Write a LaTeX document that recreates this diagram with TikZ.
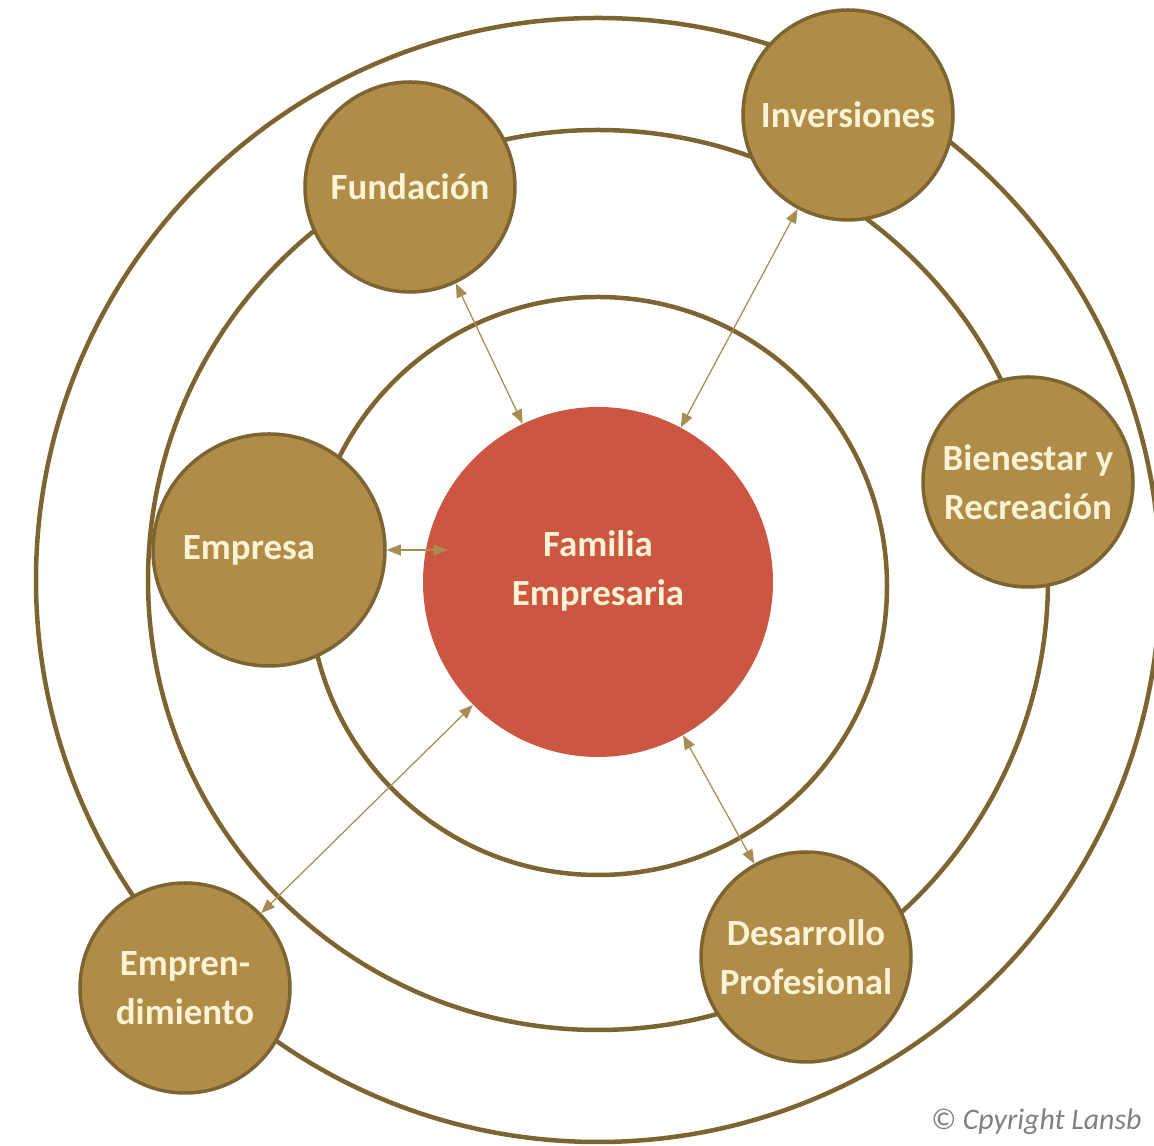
\documentclass[tikz,border=0pt]{standalone}
\usepackage{fontspec}
\setmainfont{Carlito}
\usetikzlibrary{arrows.meta}
\definecolor{ringbrown}{RGB}{125,100,48}
\definecolor{satfill}{RGB}{175,140,72}
\definecolor{hubred}{RGB}{203,86,65}
\definecolor{cream}{RGB}{253,242,212}
\definecolor{linktan}{RGB}{168,140,82}
\tikzset{
  ring/.style={draw=ringbrown, line width=0.09cm},
  sat/.style={circle, draw=ringbrown, line width=0.07cm, fill=satfill,
    minimum size=4.2cm, inner sep=0pt, text=cream, align=center,
    font=\bfseries\fontsize{21}{28}\selectfont},
  hub/.style={circle, fill=hubred, minimum size=7cm, inner sep=0pt},
  hubtext/.style={text=cream, align=center, font=\bfseries\fontsize{21}{28}\selectfont},
  link/.style={draw=linktan, line width=0.025cm,
    {Triangle[length=0.28cm,width=0.22cm]}-{Triangle[length=0.28cm,width=0.22cm]}},
}
\begin{document}
\begin{tikzpicture}
\useasboundingbox (0,0) rectangle (23.08,22.92);

% Drawing rings
\draw [ring] (11.96,11.20) circle (5.78);
\draw [ring] (11.96,11.32) circle (9.00);
\draw [ring] (11.96,11.32) circle (11.24);

% Drawing hub
\node [hub] (fam) at (11.96,11.28) {};
\node [hubtext] (famtext) at (11.96,11.50) {Familia\\Empresaria};

% Drawing satellites
\node [sat] (fund) at (8.20,19.18) {Fundación};
\node [sat] (inv) at (16.96,20.62) {Inversiones};
\node [sat] (bien) at (20.56,13.28) {Bienestar y\\Recreación};
\node [sat, minimum size=4.64cm] (emp) at (5.38,11.92) {Empresa\hspace{0.8cm}};
\node [sat] (empr) at (3.70,3.16) {Empren-\\dimiento};
\node [sat] (desa) at (16.12,3.78) {Desarrollo\\Profesional};

% Drawing links
\draw [link] (fund) -- (fam);
\draw [link] (inv) -- (fam);
\draw [link, shorten >=-0.5cm] (emp.east) -- (emp.east -| fam.west);
\draw [link] (empr) -- (fam);
\draw [link] (desa) -- (fam);

% Marking copyright
\node [anchor=west, text=gray, font=\itshape\fontsize{17}{19}\selectfont] (copy) at (18.50,0.48) {© Cpyright Lansb};
\end{tikzpicture}
\end{document}
